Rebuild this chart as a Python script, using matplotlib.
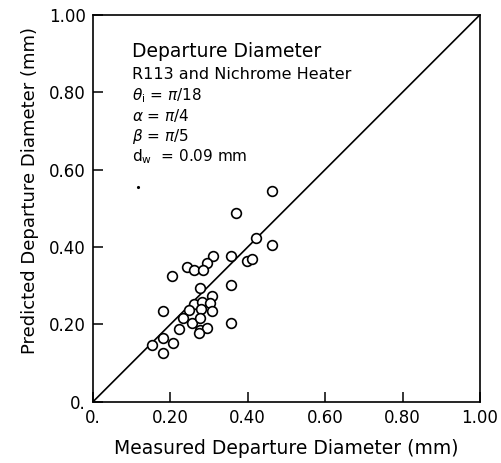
import numpy as np
import matplotlib
matplotlib.use("Agg")
import matplotlib.pyplot as plt

# measured vs predicted departure diameter (mm)
measured = [0.462, 0.369, 0.421, 0.464, 0.357, 0.311, 0.296, 0.397, 0.411,
            0.242, 0.262, 0.285, 0.204, 0.276, 0.357, 0.307, 0.262, 0.283,
            0.302, 0.248, 0.182, 0.308, 0.279, 0.233, 0.257, 0.276, 0.222,
            0.276, 0.296, 0.274, 0.358, 0.154, 0.182, 0.208, 0.182]
predicted = [0.545, 0.488, 0.423, 0.406, 0.378, 0.378, 0.360, 0.365, 0.370,
             0.348, 0.341, 0.341, 0.324, 0.294, 0.301, 0.274, 0.252, 0.259,
             0.256, 0.238, 0.235, 0.235, 0.240, 0.218, 0.203, 0.218, 0.189,
             0.186, 0.192, 0.177, 0.203, 0.147, 0.164, 0.153, 0.126]
stray_dot = (0.117, 0.554)

ticks = [0.0, 0.2, 0.4, 0.6, 0.8, 1.0]
tick_labels = ["0.", "0.20", "0.40", "0.60", "0.80", "1.00"]

info_lines = [
    ("Departure Diameter", 13.5),
    ("R113 and Nichrome Heater", 11.5),
    (r"$\theta_{\rm i}$ = $\pi$/18", 11),
    (r"$\alpha$ = $\pi$/4", 11),
    (r"$\beta$ = $\pi$/5", 11),
    (r"d$_{\rm w}$  = 0.09 mm", 11),
]

fig = plt.figure(figsize=(5.02, 4.63), dpi=100)
ax = fig.add_axes([0.185, 0.132, 0.771, 0.836])

ax.plot([0, 1], [0, 1], color="black", lw=1.2)
ax.plot(measured, predicted, "o", mfc="white", mec="black", ms=7, mew=1.2)
ax.plot(*stray_dot, ".", color="black", ms=2.5)

ax.set_xlim(0, 1)
ax.set_ylim(0, 1)
ax.set_xticks(ticks)
ax.set_xticklabels(tick_labels)
ax.set_yticks(ticks)
ax.set_yticklabels(tick_labels)
ax.tick_params(direction="in", length=7, width=1.1, labelsize=12, pad=5)
for s in ax.spines.values():
    s.set_linewidth(1.2)

ax.set_xlabel("Measured Departure Diameter (mm)", fontsize=13.5, labelpad=9)
ax.set_ylabel("Predicted Departure Diameter (mm)", fontsize=13)
ax.yaxis.set_label_coords(-0.14, 0.545)

y = 0.905
for text, size in info_lines:
    ax.text(0.10, y, text, fontsize=size, va="center", ha="left")
    y -= 0.053 if size < 13 else 0.06

fig.savefig("out.png", dpi=100)
